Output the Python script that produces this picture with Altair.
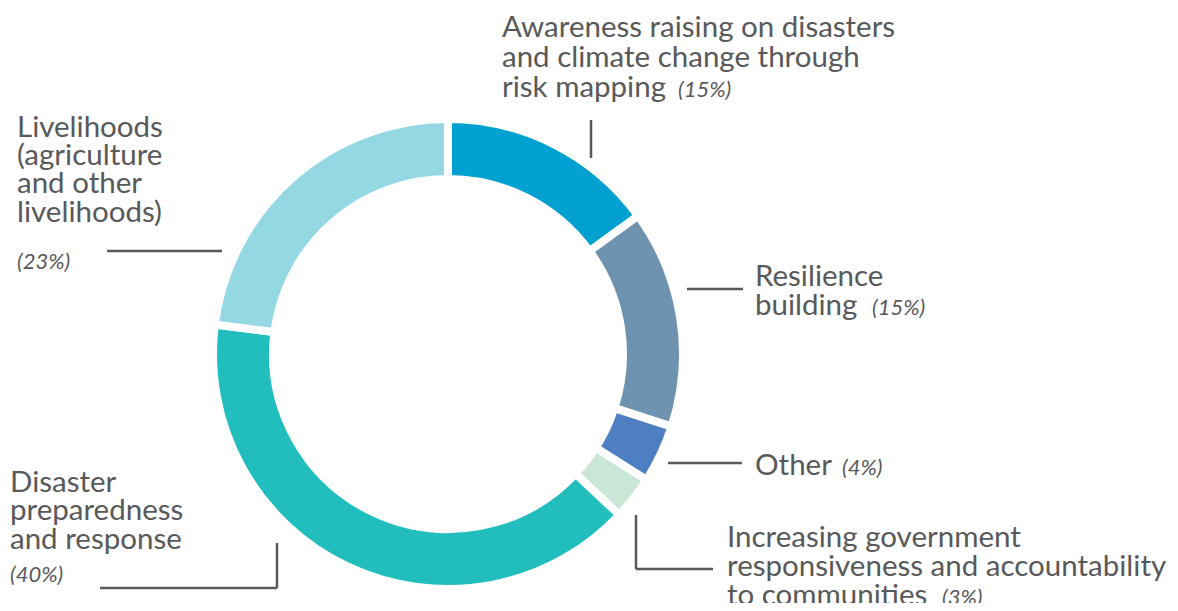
import altair as alt
import pandas as pd

# ---- data ----
categories = [
    "Awareness raising on disasters and climate change through risk mapping",
    "Resilience building",
    "Other",
    "Increasing government responsiveness and accountability to communities",
    "Disaster preparedness and response",
    "Livelihoods (agriculture and other livelihoods)",
]
values = [15, 15, 4, 3, 40, 23]
colors = ["#00a0d0", "#6e93b0", "#4f7fc3", "#c9e6d6", "#22bdbd", "#93d8e3"]

# label text lines (annotation layout, chart pixel coordinates)
label_text = [
    "Awareness raising on disasters", "and climate change through", "risk mapping",
    "Livelihoods", "(agriculture", "and other", "livelihoods)",
    "Resilience", "building",
    "Other",
    "Increasing government", "responsiveness and accountability", "to communities",
    "Disaster", "preparedness", "and response",
]
label_x = [494, 494, 494, 9, 9, 9, 9, 747, 747, 747, 719, 719, 719, 2, 2, 2]
label_y = [29, 59, 89, 129, 157, 185, 214, 278, 307, 467, 539, 568, 597, 484, 512, 541]

pct_text = ["(15%)", "(23%)", "(15%)", "(4%)", "(3%)", "(40%)"]
pct_x = [670, 9, 864, 834, 934, 2]
pct_y = [89, 261, 307, 467, 597, 574]

# leader lines
lead_x = [583, 99, 679, 660, 628, 628, 269, 92]
lead_x2 = [583, 214, 735, 734, 628, 705, 269, 269]
lead_y = [112, 243, 281, 455, 507, 561, 535, 580]
lead_y2 = [150, 243, 281, 455, 561, 561, 580, 580]

df = pd.DataFrame({"category": categories, "value": values, "order": list(range(len(values)))})
lab = pd.DataFrame({"text": label_text, "x": label_x, "y": label_y})
pct = pd.DataFrame({"text": pct_text, "x": pct_x, "y": pct_y})
lead = pd.DataFrame({"x": lead_x, "x2": lead_x2, "y": lead_y, "y2": lead_y2})

FONT = "Lato"
TXT = "#58595b"

donut = alt.Chart(df).mark_arc(
    innerRadius=175, outerRadius=235, stroke="white", strokeWidth=8
).encode(
    theta=alt.Theta("value:Q", stack=True),
    order=alt.Order("order:Q"),
    color=alt.Color("category:N", scale=alt.Scale(domain=categories, range=colors), legend=None),
    x=alt.value(440),
    y=alt.value(346),
)

labels = alt.Chart(lab).mark_text(
    align="left", baseline="alphabetic", font=FONT, fontSize=29.5, color=TXT
).encode(
    x=alt.X("x:Q", scale=None, axis=None),
    y=alt.Y("y:Q", scale=None, axis=None),
    text="text:N",
)

pcts = alt.Chart(pct).mark_text(
    align="left", baseline="alphabetic", font=FONT, fontSize=22, fontStyle="italic", color=TXT
).encode(
    x=alt.X("x:Q", scale=None, axis=None),
    y=alt.Y("y:Q", scale=None, axis=None),
    text="text:N",
)

leaders = alt.Chart(lead).mark_rule(color="#58595b", strokeWidth=2.5).encode(
    x=alt.X("x:Q", scale=None, axis=None),
    x2="x2:Q",
    y=alt.Y("y:Q", scale=None, axis=None),
    y2="y2:Q",
)

chart = alt.layer(donut, leaders, labels, pcts).properties(
    width=1162, height=595, padding=0, autosize="none", background="white"
).configure_view(stroke=None)

chart.save("out.html", embed_options={"renderer": "svg", "actions": False})
